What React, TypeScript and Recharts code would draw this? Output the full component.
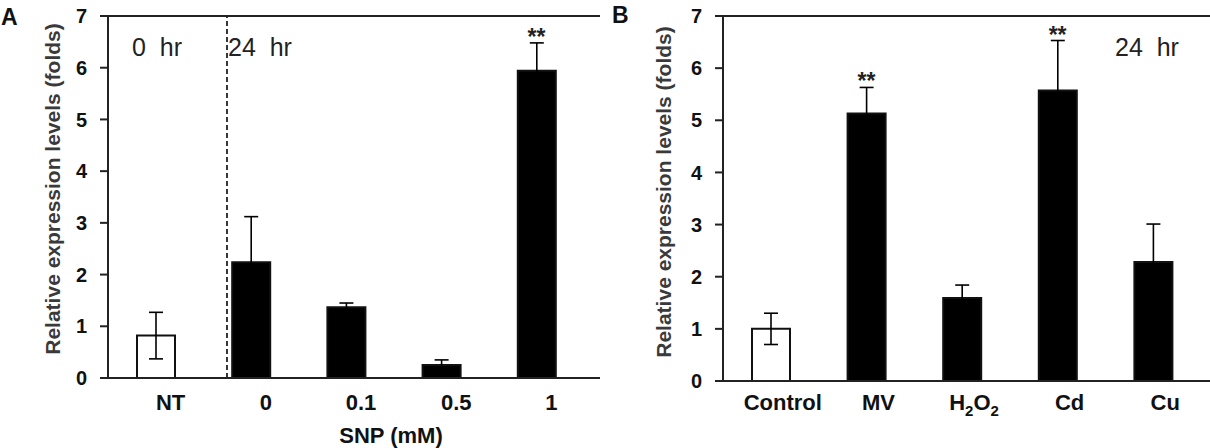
import {
  ComposedChart,
  Bar,
  Line,
  Cell,
  ErrorBar,
  XAxis,
  YAxis,
  ReferenceArea,
  ReferenceLine,
} from "recharts";

const FONT = "'Liberation Sans', Arial, sans-serif";

// panel A: SNP dose, 0 hr vs 24 hr
const A_CATS = ["NT", "0", "0.1", "0.5", "1"];
const A_VALS = [0.82, 2.24, 1.37, 0.25, 5.94];
const A_ERRS = [0.45, 0.88, 0.08, 0.1, 0.54];
const A_SIG = [false, false, false, false, true];

// panel B: stresses, 24 hr
const B_CATS = ["Control", "MV", "H2O2", "Cd", "Cu"];
const B_VALS = [1.0, 5.13, 1.59, 5.57, 2.28];
const B_ERRS = [0.3, 0.5, 0.25, 0.96, 0.73];
const B_SIG = [false, true, false, true, false];

const Y_TICKS = [0, 1, 2, 3, 4, 5, 6, 7];

const build = (cats: string[], vals: number[], errs: number[], sig: boolean[]) =>
  cats.map((c, i) => ({
    c,
    v: vals[i],
    e: errs[i],
    top: sig[i] ? vals[i] + errs[i] : null,
  }));

const chem = (s: string) => {
  const parts = s.split(/(\d)/).filter((p) => p !== "");
  let low = false;
  return parts.map((p, i) => {
    const isDigit = /^\d$/.test(p);
    let dy = 0;
    if (isDigit && !low) { dy = 6; low = true; }
    else if (!isDigit && low) { dy = -6; low = false; }
    return (
      <tspan key={i} dy={dy} fontSize={isDigit ? 15 : undefined}>
        {p}
      </tspan>
    );
  });
};

function XTick(props: any) {
  const { x, y, payload, shift, base, sub } = props;
  const s = String(payload.value);
  return (
    <text
      x={x + shift}
      y={y + base}
      textAnchor="middle"
      fontSize={22}
      fontWeight={700}
      fill="#111"
      fontFamily={FONT}
    >
      {sub ? chem(s) : s}
    </text>
  );
}

function star(props: any) {
  const { x, y, value, index } = props;
  if (value == null || y == null || isNaN(y)) return null;
  return (
    <text
      key={index}
      x={x}
      y={y + 2}
      textAnchor="middle"
      fontSize={23}
      fontWeight={700}
      fill="#222"
      fontFamily={FONT}
    >
      **
    </text>
  );
}

function Panel(props: {
  data: any[];
  width: number;
  margin: any;
  shift: number;
  base: number;
  sub?: boolean;
  divider?: boolean;
}) {
  const { data, width, margin, shift, base, sub, divider } = props;
  return (
    <ComposedChart width={width} height={448} data={data} margin={margin}>
      <XAxis
        xAxisId="cat"
        dataKey="c"
        interval={0}
        height={40}
        tickLine={false}
        tickSize={0}
        tickMargin={0}
        axisLine={{ stroke: "#222", strokeWidth: 2 }}
        tick={<XTick shift={shift} base={base} sub={sub} />}
      />
      <XAxis xAxisId="n" type="number" domain={[0, 5]} allowDataOverflow hide />
      <YAxis
        domain={[0, 7]}
        ticks={Y_TICKS}
        width={60}
        tickSize={8}
        tickMargin={13}
        interval={0}
        axisLine={{ stroke: "#222", strokeWidth: 2 }}
        tickLine={{ stroke: "#222", strokeWidth: 2 }}
        tick={{ fontSize: 20, fontWeight: 700, fill: "#111", fontFamily: FONT }}
      />
      <ReferenceArea
        xAxisId="n"
        x1={0}
        x2={5}
        y1={0}
        y2={7}
        fill="none"
        stroke="#222"
        strokeWidth={2}
        ifOverflow="visible"
      />
      {divider && (
        <ReferenceLine
          xAxisId="n"
          x={1}
          stroke="#222"
          strokeWidth={1.8}
          strokeDasharray="5 3"
        />
      )}
      <Bar xAxisId="cat" dataKey="v" barSize={38} isAnimationActive={false}>
        {data.map((d, i) => (
          <Cell
            key={d.c}
            fill={i === 0 ? "#fff" : "#000"}
            stroke="#111"
            strokeWidth={2}
          />
        ))}
        <ErrorBar dataKey="e" width={7} stroke="#000" strokeWidth={1.6} />
      </Bar>
      <Line
        xAxisId="cat"
        dataKey="top"
        stroke="none"
        dot={false}
        activeDot={false}
        label={star}
        isAnimationActive={false}
      />
    </ComposedChart>
  );
}

export default function App() {
  const dataA = build(A_CATS, A_VALS, A_ERRS, A_SIG);
  const dataB = build(B_CATS, B_VALS, B_ERRS, B_SIG);
  const txt = { fontFamily: FONT, fill: "#222" };
  return (
    <div
      style={{
        position: "absolute",
        left: 0,
        top: 0,
        width: 1210,
        height: 448,
        background: "#fff",
        overflow: "hidden",
      }}
    >
      <div style={{ position: "absolute", left: 0, top: 0 }}>
        <Panel
          data={dataA}
          width={600}
          margin={{ top: 16, right: 16, bottom: 30, left: 48 }}
          shift={15}
          base={32}
          divider
        />
      </div>
      <div style={{ position: "absolute", left: 615, top: 0 }}>
        <Panel
          data={dataB}
          width={595}
          margin={{ top: 16, right: 9, bottom: 27, left: 48 }}
          shift={12}
          base={29}
          sub
        />
      </div>
      <svg
        width={1210}
        height={448}
        style={{ position: "absolute", left: 0, top: 0, pointerEvents: "none" }}
      >
        <text x={1} y={25} fontSize={23} fontWeight={700} {...txt} fill="#111">A</text>
        <text x={612} y={23} fontSize={23} fontWeight={700} {...txt} fill="#111">B</text>
        <text x={132} y={56} fontSize={25} style={{ whiteSpace: "pre" }} {...txt}>0  hr</text>
        <text x={228} y={56} fontSize={25} style={{ whiteSpace: "pre" }} {...txt}>24  hr</text>
        <text x={1115} y={56} fontSize={25} style={{ whiteSpace: "pre" }} {...txt}>24  hr</text>
        <text
          x={391}
          y={443}
          textAnchor="middle"
          fontSize={22}
          fontWeight={700}
          {...txt}
          fill="#111"
        >
          SNP (mM)
        </text>
        <text
          transform="translate(52,189) rotate(-90)"
          textAnchor="middle"
          dominantBaseline="central"
          fontSize={21}
          fontWeight={700}
          {...txt}
          fill="#3a3a3a"
        >
          Relative expression levels (folds)
        </text>
        <text
          transform="translate(663,192) rotate(-90)"
          textAnchor="middle"
          dominantBaseline="central"
          fontSize={21}
          fontWeight={700}
          {...txt}
          fill="#3a3a3a"
        >
          Relative expression levels (folds)
        </text>
      </svg>
    </div>
  );
}
